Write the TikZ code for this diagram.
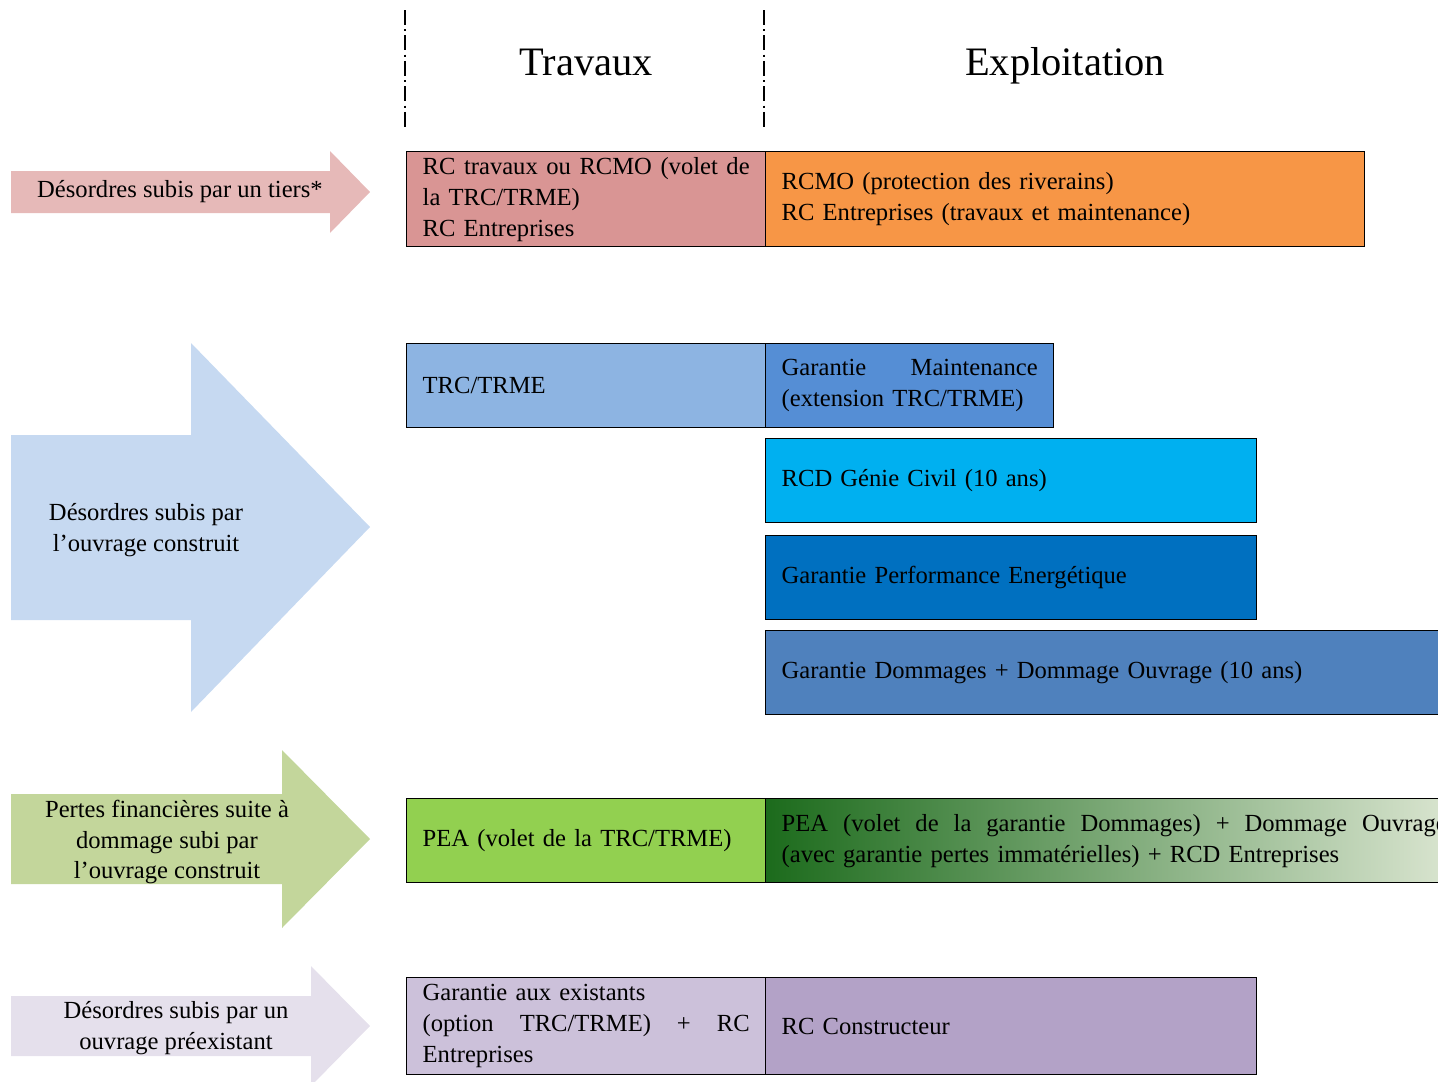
\documentclass[tikz,border=0pt]{standalone}
\usepackage{fontspec}
\setmainfont{Liberation Serif}

\definecolor{tiersarrow}{HTML}{E6B9B8}
\definecolor{ouvragearrow}{HTML}{C6D9F1}
\definecolor{pertesarrow}{HTML}{C3D69B}
\definecolor{existarrow}{HTML}{E5E0EC}
\definecolor{rctrav}{HTML}{D99594}
\definecolor{rcmo}{HTML}{F79646}
\definecolor{trc}{HTML}{8DB4E2}
\definecolor{maint}{HTML}{558ED5}
\definecolor{rcd}{HTML}{00B0F0}
\definecolor{perf}{HTML}{0070C0}
\definecolor{dommages}{HTML}{4F81BD}
\definecolor{pea}{HTML}{92D050}
\definecolor{peadark}{HTML}{1C6B1C}
\definecolor{peamid}{HTML}{A6C17C}
\definecolor{pealight}{HTML}{DDE7D3}
\definecolor{existleft}{HTML}{CCC1DA}
\definecolor{existright}{HTML}{B3A2C7}

\newcommand{\px}{0.02cm}
% one justified line, full width of the box
\newcommand{\jline}[1]{\makebox[\hsize][s]{\spaceskip=0pt\xspaceskip=0pt #1}}

\tikzset{
  cover/.style={draw=black, line width=0.8pt, anchor=north west, inner xsep=16*\px,
    inner ysep=0pt, align=left, font=\fontsize{14pt}{17.6pt}\selectfont},
  phase/.style={line width=1.4pt, dash pattern=on 8.5pt off 2.4pt on 1.2pt off 2.4pt},
  title/.style={anchor=base, font=\fontsize{23pt}{28pt}\selectfont},
  arrowtext/.style={align=center, font=\fontsize{14pt}{17.6pt}\selectfont, inner sep=0pt}
}

\begin{document}
\begin{tikzpicture}[x=0.02cm, y=-0.02cm]
\clip (0,0) rectangle (1438,1082);

% phases
\coordinate (trav1) at (405,10);
\coordinate (trav2) at (405,128);
\coordinate (expl1) at (764,10);
\coordinate (expl2) at (764,128);
\draw[phase] (trav1) -- (trav2);
\draw[phase] (expl1) -- (expl2);
\node[title] (travaux) at (586,75) {Travaux};
\node[title] (exploitation) at (1065,75) {Exploitation};

% arrows
\fill[tiersarrow] (11,171) -- (330,171) -- (330,151) -- (370,192) -- (330,233) -- (330,213) -- (11,213) -- cycle;
\fill[ouvragearrow] (11,435) -- (191,435) -- (191,343) -- (370,527) -- (191,712) -- (191,620) -- (11,620) -- cycle;
\fill[pertesarrow] (11,794) -- (282,794) -- (282,750) -- (370,839) -- (282,928) -- (282,884) -- (11,884) -- cycle;
\fill[existarrow] (11,996) -- (311,996) -- (311,966) -- (370,1026) -- (311,1086) -- (311,1056) -- (11,1056) -- cycle;

\node[arrowtext] (tiers) at (180,192) {Désordres subis par un tiers*};
\node[arrowtext] (ouvrage) at (146,530) {Désordres subis par\\ l’ouvrage construit};
\node[arrowtext] (pertes) at (167,842) {Pertes financières suite à\\ dommage subi par\\ l’ouvrage construit};
\node[arrowtext] (existant) at (176,1028) {Désordres subis par un\\ ouvrage préexistant};

% tiers
\node[cover, fill=rctrav, minimum width=359*\px, minimum height=95*\px, text width=327*\px] (rctravaux) at (406,151)
  {\jline{RC travaux ou RCMO (volet de}\\ la TRC/TRME)\\ RC Entreprises};
\node[cover, fill=rcmo, minimum width=599*\px, minimum height=95*\px, text width=567*\px] (rcmo) at (765,151)
  {RCMO (protection des riverains)\\ RC Entreprises (travaux et maintenance)};

% ouvrage construit
\node[cover, fill=trc, minimum width=359*\px, minimum height=84*\px, text width=327*\px] (trcbox) at (406,343)
  {TRC/TRME};
\node[cover, fill=maint, minimum width=288*\px, minimum height=84*\px, text width=256*\px] (maintbox) at (765,343)
  {\jline{Garantie Maintenance}\\ (extension TRC/TRME)};
\node[cover, fill=rcd, minimum width=491*\px, minimum height=84*\px, text width=459*\px] (rcdbox) at (765,438)
  {RCD Génie Civil (10 ans)};
\node[cover, fill=perf, minimum width=491*\px, minimum height=84*\px, text width=459*\px] (perfbox) at (765,535)
  {Garantie Performance Energétique};
\node[cover, fill=dommages, minimum width=697*\px, minimum height=84*\px, text width=665*\px] (dombox) at (765,630)
  {Garantie Dommages + Dommage Ouvrage (10 ans)};

% pertes financieres
\node[cover, fill=pea, minimum width=359*\px, minimum height=84*\px, text width=327*\px] (peabox) at (406,798)
  {PEA (volet de la TRC/TRME)};
\node[cover, left color=peadark, middle color=peamid, right color=pealight, minimum width=697*\px,
  minimum height=84*\px, text width=665*\px] (peaexpl) at (765,798)
  {\jline{PEA (volet de la garantie Dommages) + Dommage Ouvrage}\\ (avec garantie pertes immatérielles) + RCD Entreprises};

% existants
\node[cover, fill=existleft, minimum width=359*\px, minimum height=97*\px, text width=327*\px] (existbox) at (406,977)
  {Garantie aux existants\\ \jline{(option TRC/TRME) + RC}\\ Entreprises};
\node[cover, fill=existright, minimum width=491*\px, minimum height=97*\px, text width=459*\px] (constbox) at (765,977)
  {RC Constructeur};

\end{tikzpicture}
\end{document}
